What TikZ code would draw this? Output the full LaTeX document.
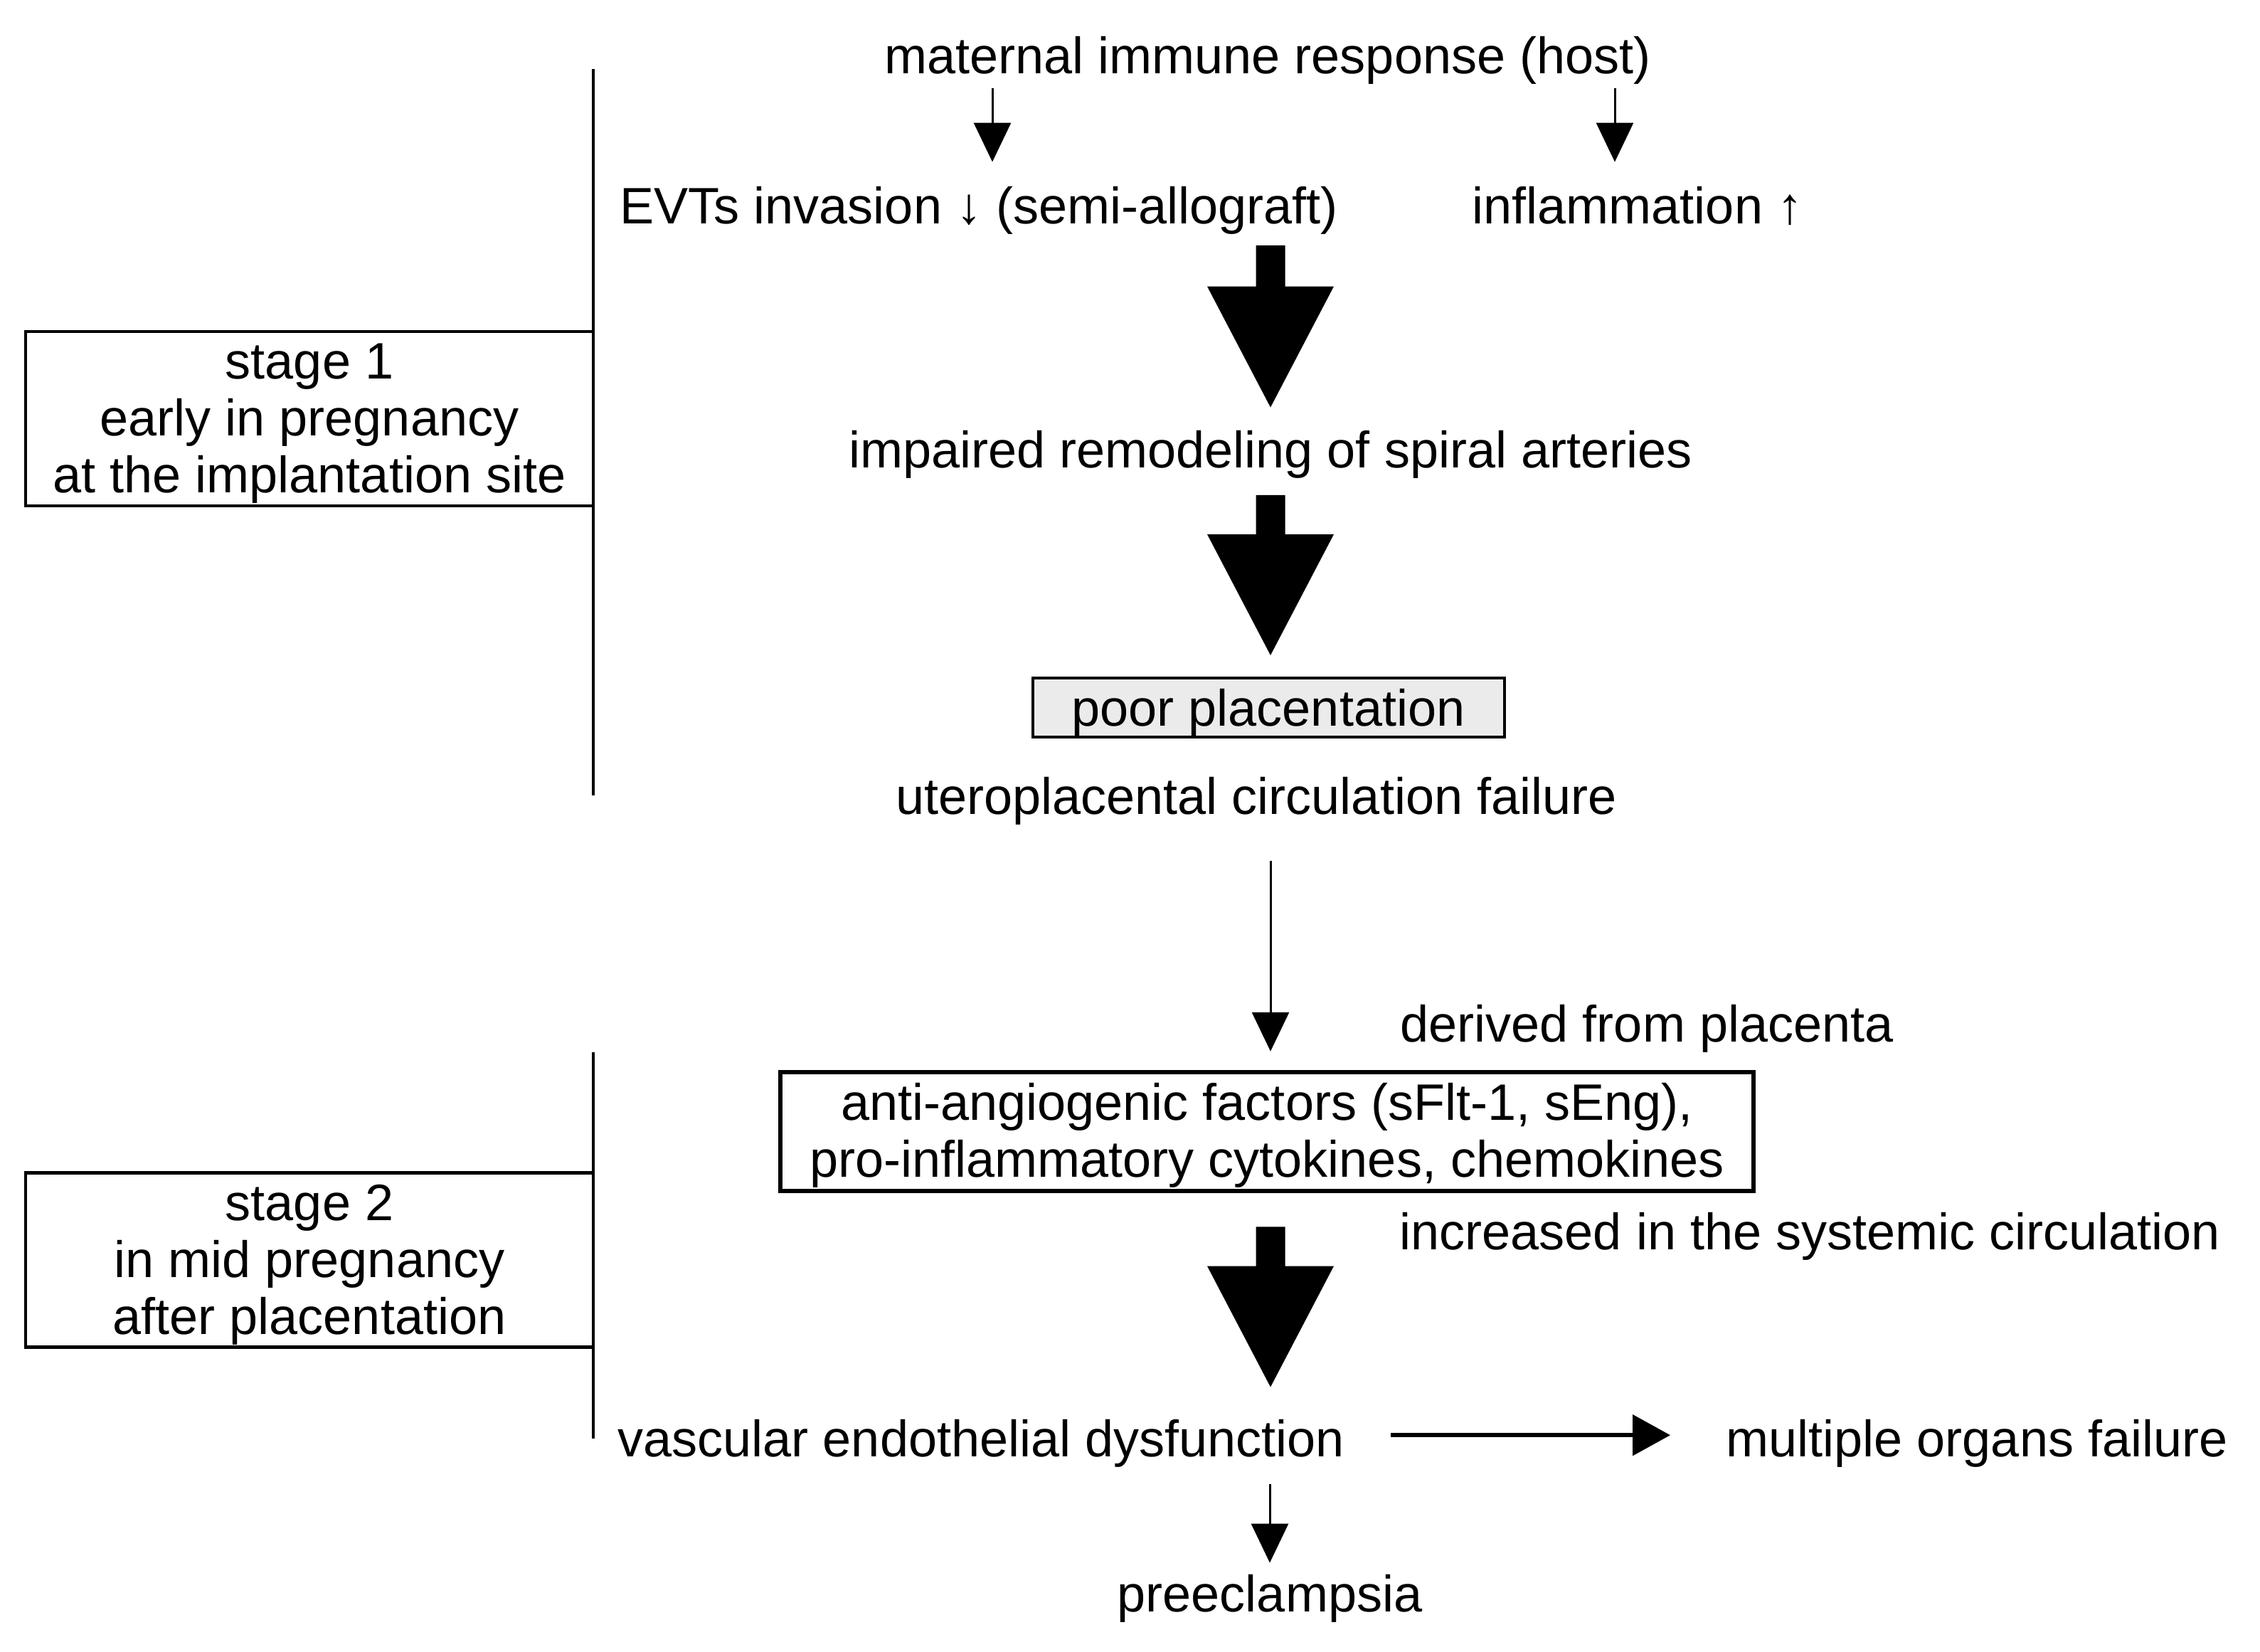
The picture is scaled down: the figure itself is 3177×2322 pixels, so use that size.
\documentclass[tikz,border=0pt]{standalone}
\usepackage{fontspec}
\setmainfont{Liberation Sans}
\usepackage{xcolor}
\usepackage{tikz}
\usetikzlibrary{calc}
\usetikzlibrary{arrows.meta}

\definecolor{poorgray}{RGB}{235,235,235}

% fat downward arrow from #1 (start of shaft) to #2 (tip)
\newcommand{\fatarrow}[2]{%
  \path #1 coordinate (fa-s) #2 coordinate (fa-e);
  \fill ($(fa-s)+(-20.5,0)$) -- ($(fa-s)+(20.5,0)$) -- ($(fa-e)+(20.5,-170)$)
    -- ($(fa-e)+(89,-170)$) -- (fa-e) -- ($(fa-e)+(-89,-170)$)
    -- ($(fa-e)+(-20.5,-170)$) -- cycle;}
% taller first line inside boxes
\newcommand{\highstrut}{\rule{0pt}{18.1pt}}

\begin{document}
\begin{tikzpicture}[x=0.1mm,y=-0.1mm,
  every node/.style={font=\fontsize{20.5}{22.76}\selectfont},
  lbl/.style={inner sep=0pt,text height=15pt,text depth=4.3pt},
  stagebox/.style={draw,line width=0.45mm,minimum width=79.8mm,minimum height=24.5mm,align=center,inner sep=0pt},
  factorbox/.style={draw,line width=0.65mm,minimum width=136.8mm,minimum height=16.7mm,align=center,inner sep=0pt},
  poorbox/.style={draw,line width=0.4mm,fill=poorgray,minimum width=66.3mm,inner sep=0pt,text height=6.7mm,text depth=1.6mm},
  thinarrow/.style={line width=0.3mm,-{Triangle[length=5.5mm,width=5.2mm]}},
  sidearrow/.style={line width=0.55mm,-{Triangle[length=5.3mm,width=5.7mm]}},
  stageline/.style={line width=0.4mm}]
\useasboundingbox (0,0) rectangle (3177,2322);

% Stage boxes
\node[stagebox] (st1) at (435,588.5) {\highstrut stage 1\\early in pregnancy\\at the implantation site};
\node[stagebox] (st2) at (435,1771) {\highstrut stage 2\\in mid pregnancy\\after placentation};
\draw[stageline] (834,97) -- (834,1118);
\draw[stageline] (834,1479) -- (834,2022);

% Stage 1 chain
\node[lbl,anchor=base] (mat) at (1782,104) {maternal immune response (host)};
\node[lbl,anchor=base west] (evt) at (871,315) {EVTs invasion ↓ (semi-allograft)};
\node[lbl,anchor=base west] (infl) at (2069,315) {inflammation ↑};
\node[lbl,anchor=base] (imp) at (1786,657) {impaired remodeling of spiral arteries};
\node[poorbox] (poor) at (1783,994.5) {poor placentation};
\node[lbl,anchor=base] (utero) at (1766,1144) {uteroplacental circulation failure};

% Stage 2 chain
\node[lbl,anchor=base west] (deriv) at (1968,1464) {derived from placenta};
\node[factorbox] (anti) at (1781,1590.5) {\highstrut anti-angiogenic factors (sFlt-1, sEng),\\pro-inflammatory cytokines, chemokines};
\node[lbl,anchor=base west] (incr) at (1967,1756) {increased in the systemic circulation};
\node[lbl,anchor=base west] (vasc) at (868,2047) {vascular endothelial dysfunction};
\node[lbl,anchor=base west] (mof) at (2426,2047) {multiple organs failure};
\node[lbl,anchor=base] (pre) at (1785,2265) {preeclampsia};

% Thin arrows
\coordinate (ax1) at (1395,0);
\coordinate (ax2) at (2270,0);
\draw[thinarrow,shorten <=0.4mm,shorten >=3.4mm] (mat.south -| ax1) -- (evt.north -| ax1);
\draw[thinarrow,shorten <=0.4mm,shorten >=3.4mm] (mat.south -| ax2) -- (infl.north -| ax2);
\draw[thinarrow,shorten <=5mm,shorten >=2.6mm] (utero.south -| imp.north) -- (anti.north -| imp.north);
\draw[thinarrow,shorten <=2.3mm,shorten >=1.5mm] (vasc.south -| pre.north) -- (pre.north);
\draw[sidearrow,shorten <=6.4mm,shorten >=7.8mm] ([yshift=1.1mm]vasc.east) -- ([yshift=1.1mm]mof.west);

% Fat arrows
\fatarrow{($(evt.south -| imp.north)+(0,14)$)}{($(imp.north)+(0,-31)$)}
\fatarrow{($(imp.south)+(0,23)$)}{($(poor.north -| imp.north)+(0,-30)$)}
\fatarrow{($(anti.south -| imp.north)+(0,47)$)}{($(vasc.north -| imp.north)+(0,-44)$)}
\end{tikzpicture}
\end{document}
